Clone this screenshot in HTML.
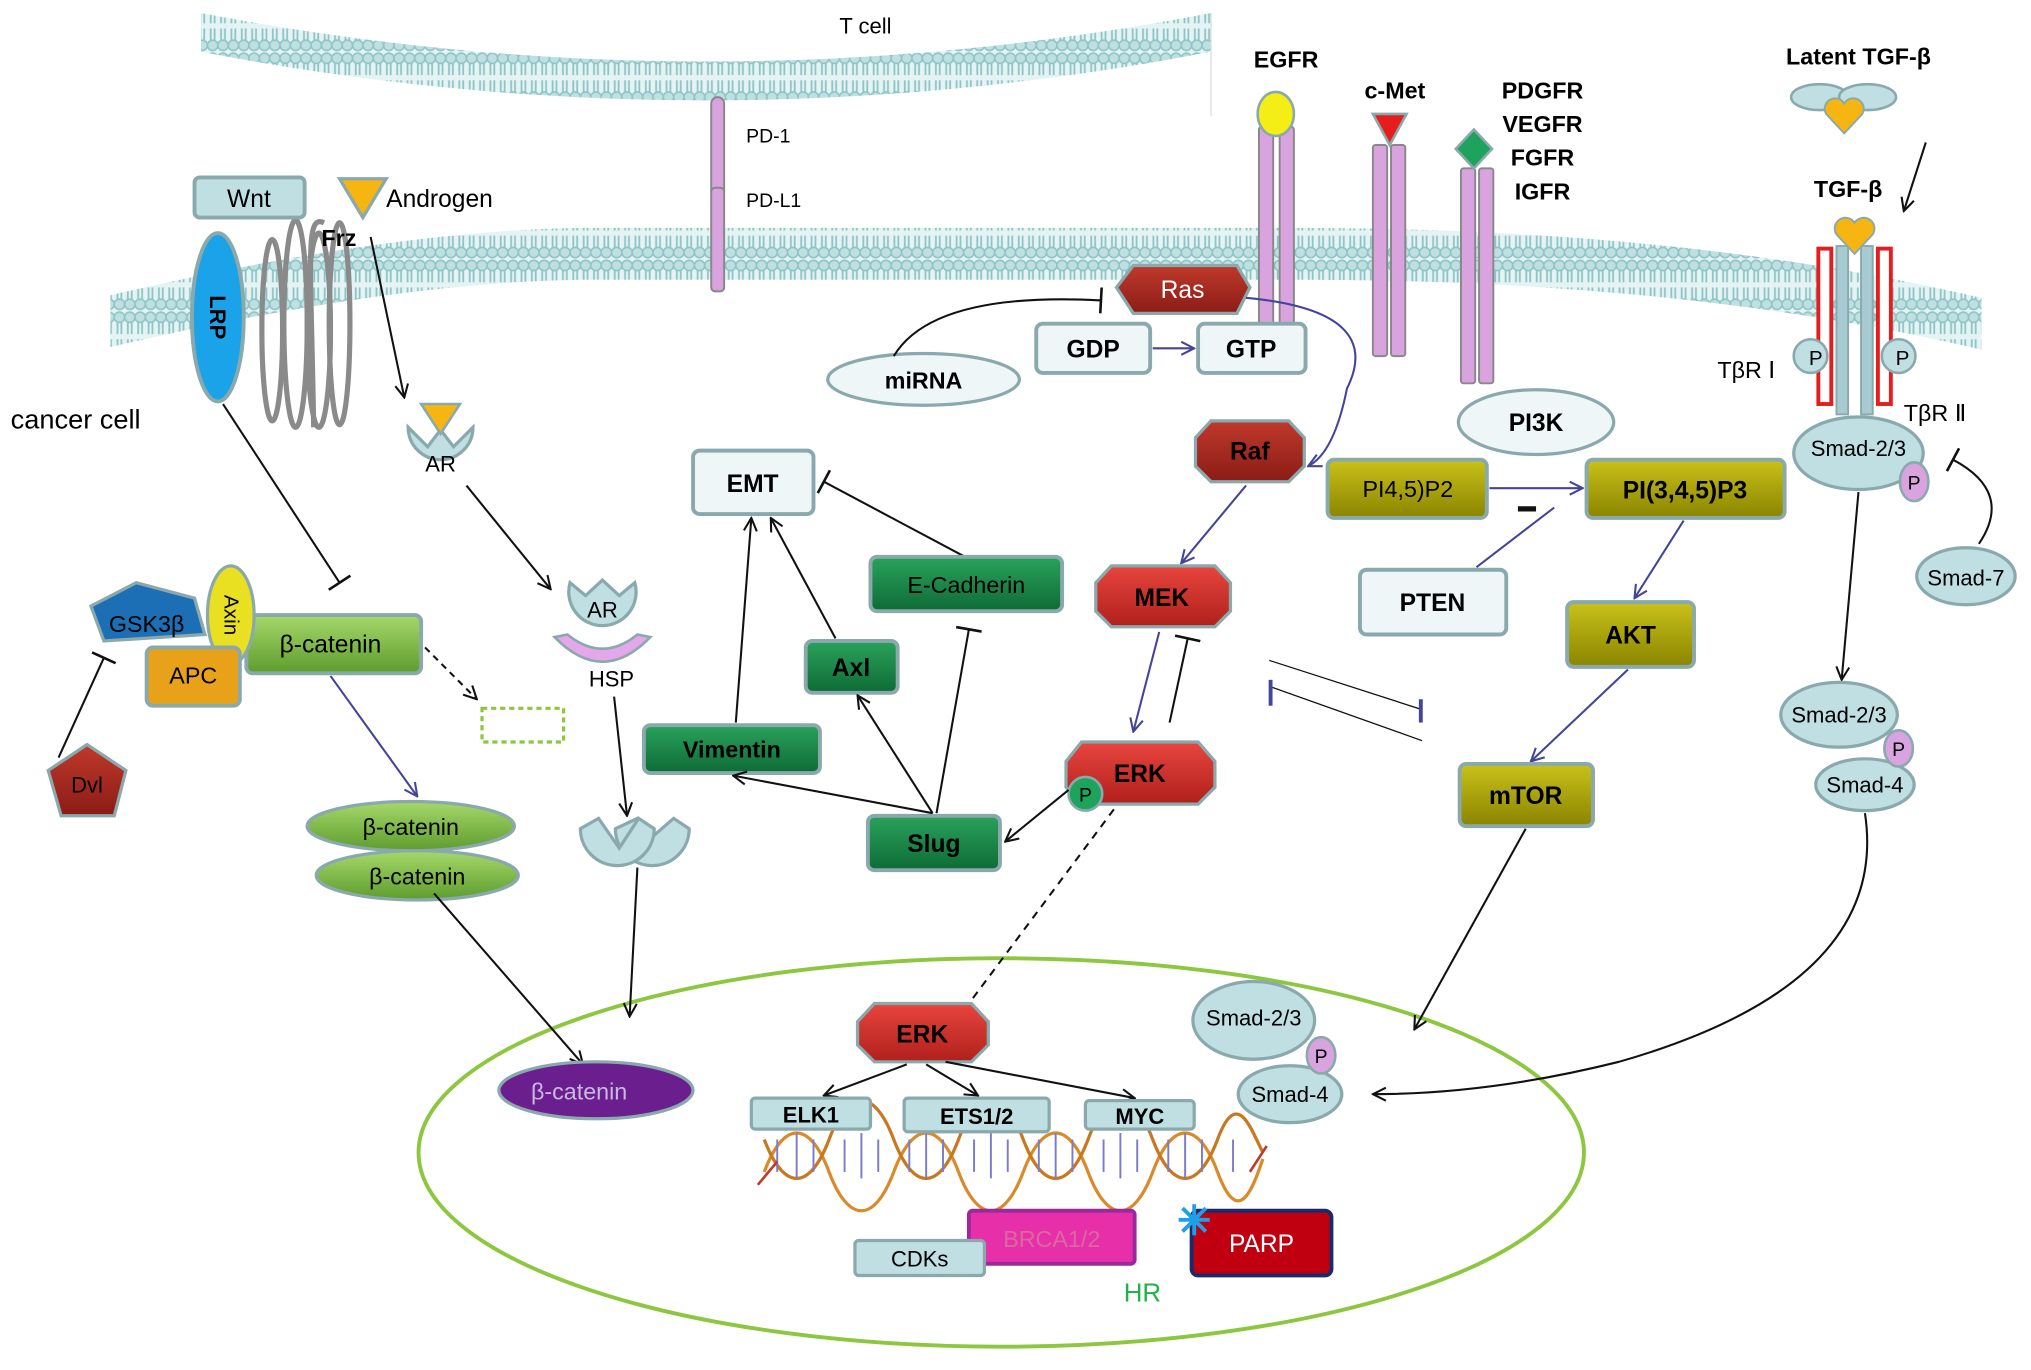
<!DOCTYPE html>
<html><head><meta charset="utf-8"><style>
html,body{margin:0;padding:0;background:#fff}
svg{display:block}
text{font-family:"Liberation Sans",sans-serif}
</style></head><body>
<svg width="2031" height="1370" viewBox="0 0 1568 1058" xmlns="http://www.w3.org/2000/svg">
<defs>
<marker id="a" viewBox="0 0 12 12" refX="11" refY="6" markerWidth="12" markerHeight="12" markerUnits="userSpaceOnUse" orient="auto"><path d="M1,1 L11,6 L1,11" fill="none" stroke="#111" stroke-width="1.6"/></marker>
<marker id="b" viewBox="0 0 12 12" refX="11" refY="6" markerWidth="12" markerHeight="12" markerUnits="userSpaceOnUse" orient="auto"><path d="M1,1 L11,6 L1,11" fill="none" stroke="#44449a" stroke-width="1.6"/></marker>
<marker id="t" viewBox="0 0 4 20" refX="2" refY="10" markerWidth="4" markerHeight="20" markerUnits="userSpaceOnUse" orient="auto"><line x1="2" y1="0" x2="2" y2="20" stroke="#111" stroke-width="2"/></marker>
<linearGradient id="red" x1="0" y1="0" x2="0" y2="1"><stop offset="0" stop-color="#e8453e"/><stop offset="1" stop-color="#b0201c"/></linearGradient>
<linearGradient id="dred" x1="0" y1="0" x2="0" y2="1"><stop offset="0" stop-color="#c0392b"/><stop offset="1" stop-color="#8a1c16"/></linearGradient>
<linearGradient id="grn" x1="0" y1="0" x2="0" y2="1"><stop offset="0" stop-color="#2aa25c"/><stop offset="1" stop-color="#0e6b36"/></linearGradient>
<linearGradient id="yel" x1="0" y1="0" x2="0" y2="1"><stop offset="0" stop-color="#c9c21a"/><stop offset="1" stop-color="#8a8400"/></linearGradient>
<linearGradient id="lg" x1="0" y1="0" x2="0" y2="1"><stop offset="0" stop-color="#a6d86a"/><stop offset="1" stop-color="#5e9c2e"/></linearGradient>
<pattern id="mem" width="8" height="40" patternUnits="userSpaceOnUse">
<rect width="8" height="40" fill="#e4f3f3"/>
<circle cx="4" cy="5" r="4" fill="#bfe0e1" stroke="#8fc4c6" stroke-width="1.2"/>
<line x1="2.5" y1="9" x2="2.5" y2="18" stroke="#8fc4c6" stroke-width="1.4"/><line x1="5.5" y1="9" x2="5.5" y2="18" stroke="#8fc4c6" stroke-width="1.4"/>
<line x1="2.5" y1="22" x2="2.5" y2="31" stroke="#8fc4c6" stroke-width="1.4"/><line x1="5.5" y1="22" x2="5.5" y2="31" stroke="#8fc4c6" stroke-width="1.4"/>
<circle cx="4" cy="35" r="4" fill="#bfe0e1" stroke="#8fc4c6" stroke-width="1.2"/>
</pattern>
</defs>

<!-- T cell membrane -->
<path d="M155,10 Q545,85 935,10 L935,40 Q545,115 155,40 Z" fill="url(#mem)"/>
<line x1="935" y1="10" x2="935" y2="90" stroke="#ddd" stroke-width="1"/>
<text x="648" y="26" font-size="17">T cell</text>

<!-- cancer cell membrane -->
<path d="M85,228 Q300,178 450,176 L1000,176 Q1300,176 1530,230 L1530,270 Q1300,216 1000,216 L450,216 Q300,218 85,268 Z" fill="url(#mem)"/>
<text x="8" y="331" font-size="21">cancer cell</text>

<!-- nucleus -->
<ellipse cx="773" cy="890" rx="450" ry="150" fill="none" stroke="#8dc63f" stroke-width="3"/>

<!-- PD-1 / PD-L1 -->
<rect x="549" y="75" width="10" height="78" rx="5" fill="#d9a3e0" stroke="#888" stroke-width="1.5"/>
<rect x="549" y="145" width="10" height="80" rx="3" fill="#d9a3e0" stroke="#888" stroke-width="1.5"/>
<text x="576" y="110" font-size="15">PD-1</text>
<text x="576" y="160" font-size="15">PD-L1</text>

<!-- Wnt / LRP / Frz -->
<g fill="none" stroke="#8a8a8a" stroke-width="4">
<ellipse cx="210" cy="255" rx="8" ry="70"/>
<ellipse cx="228" cy="250" rx="9" ry="80"/>
<ellipse cx="246" cy="255" rx="9" ry="75"/>
<ellipse cx="262" cy="250" rx="8" ry="78"/>
<path d="M250,172 C235,165 240,200 242,330"/>
</g>
<rect x="150" y="137" width="85" height="31" rx="4" fill="#bfdfe3" stroke="#8aa9ad" stroke-width="3"/>
<text x="192" y="160" font-size="19" text-anchor="middle">Wnt</text>
<ellipse cx="168" cy="245" rx="20" ry="65" fill="#1aa3e8" stroke="#8aa9ad" stroke-width="3"/>
<text x="168" y="245" font-size="17" font-weight="bold" text-anchor="middle" transform="rotate(90 168 245)" dy="6">LRP</text>
<polygon points="262,138 298,138 280,168" fill="#f7b512" stroke="#8aa9ad" stroke-width="2.5"/>
<text x="298" y="160" font-size="19">Androgen</text>
<text x="248" y="190" font-size="18" font-weight="bold">Frz</text>
<line x1="286" y1="183" x2="312" y2="307" stroke="#111" stroke-width="1.6" marker-end="url(#a)"/>

<!-- AR -->
<path d="M315,330 A25,25 0 1 0 365,330 L350,345 L340,332 L330,345 Z" fill="#bfdfe3" stroke="#8aa9ad" stroke-width="2.5"/>
<polygon points="325,312 355,312 340,335" fill="#f7b512" stroke="#8aa9ad" stroke-width="2"/>
<text x="340" y="364" font-size="17" text-anchor="middle">AR</text>
<line x1="360" y1="375" x2="425" y2="455" stroke="#111" stroke-width="1.6" marker-end="url(#a)"/>
<path d="M440,450 A26,26 0 1 0 490,450 L478,460 L465,448 L452,460 Z" fill="#bfdfe3" stroke="#8aa9ad" stroke-width="2.5"/>
<text x="465" y="477" font-size="17" text-anchor="middle">AR</text>
<path d="M428,492 Q465,530 502,492 L492,490 Q465,512 438,490 Z" fill="#e3a7ea" stroke="#8aa9ad" stroke-width="2"/>
<text x="472" y="530" font-size="17" text-anchor="middle">HSP</text>
<line x1="474" y1="538" x2="484" y2="630" stroke="#111" stroke-width="1.6" marker-end="url(#a)"/>
<path d="M475,640 A28,28 0 1 0 532,640 L520,632 L505,645 L492,632 Z" fill="#bfdfe3" stroke="#8aa9ad" stroke-width="2.5"/>
<path d="M448,640 A28,28 0 1 0 505,640 L493,632 L478,655 L462,632 Z" fill="#bfdfe3" stroke="#8aa9ad" stroke-width="2.5"/>
<line x1="492" y1="670" x2="486" y2="785" stroke="#111" stroke-width="1.6" marker-end="url(#a)"/>

<!-- beta-catenin complex -->
<line x1="172" y1="312" x2="262" y2="450" stroke="#111" stroke-width="1.6" marker-end="url(#t)"/>
<rect x="190" y="475" width="135" height="45" rx="5" fill="url(#lg)" stroke="#8aa9ad" stroke-width="3"/>
<text x="255" y="504" font-size="19" text-anchor="middle">β-catenin</text>
<ellipse cx="178" cy="475" rx="18" ry="38" fill="#e8e020" stroke="#8aa9ad" stroke-width="2.5"/>
<text x="178" y="475" font-size="16" text-anchor="middle" transform="rotate(90 178 475)" dy="5">Axin</text>
<rect x="113" y="500" width="72" height="45" rx="5" fill="#e8a21a" stroke="#8aa9ad" stroke-width="3"/>
<text x="149" y="528" font-size="18" text-anchor="middle">APC</text>
<polygon points="70,468 105,450 150,462 158,490 80,495" fill="#1c6fb5" stroke="#8aa9ad" stroke-width="2.5"/>
<text x="113" y="488" font-size="18" text-anchor="middle">GSK3β</text>
<line x1="45" y1="585" x2="80" y2="508" stroke="#111" stroke-width="1.6" marker-end="url(#t)"/>
<polygon points="67,575 97,595 88,630 47,630 37,595" fill="url(#dred)" stroke="#8aa9ad" stroke-width="2.5"/>
<text x="67" y="612" font-size="17" text-anchor="middle">Dvl</text>
<line x1="328" y1="500" x2="368" y2="540" stroke="#111" stroke-width="1.6" stroke-dasharray="5,4" marker-end="url(#a)"/>
<rect x="372" y="547" width="63" height="26" fill="none" stroke="#8dc63f" stroke-width="2.5" stroke-dasharray="4,3"/>
<line x1="255" y1="522" x2="322" y2="615" stroke="#44449a" stroke-width="1.6" marker-end="url(#b)"/>
<ellipse cx="322" cy="676" rx="78" ry="19" fill="url(#lg)" stroke="#8aa9ad" stroke-width="2.5"/>
<text x="322" y="683" font-size="18" text-anchor="middle">β-catenin</text>
<ellipse cx="317" cy="638" rx="80" ry="19" fill="url(#lg)" stroke="#8aa9ad" stroke-width="2.5"/>
<text x="317" y="645" font-size="18" text-anchor="middle">β-catenin</text>
<line x1="335" y1="690" x2="450" y2="822" stroke="#111" stroke-width="1.6" marker-end="url(#a)"/>
<ellipse cx="460" cy="842" rx="75" ry="22" fill="#6b1f8f" stroke="#8aa9ad" stroke-width="2.5"/>
<text x="447" y="849" font-size="18" text-anchor="middle" fill="#c9b8e0">β-catenin</text>

<!-- EMT section -->
<rect x="535" y="348" width="93" height="49" rx="5" fill="#eef6f8" stroke="#8aa9ad" stroke-width="3"/>
<text x="581" y="380" font-size="19" font-weight="bold" text-anchor="middle">EMT</text>
<line x1="745" y1="430" x2="636" y2="372" stroke="#111" stroke-width="1.6" marker-end="url(#t)"/>
<rect x="672" y="430" width="148" height="42" rx="5" fill="url(#grn)" stroke="#8aa9ad" stroke-width="3"/>
<text x="746" y="458" font-size="18" text-anchor="middle">E-Cadherin</text>
<rect x="622" y="495" width="71" height="40" rx="5" fill="url(#grn)" stroke="#8aa9ad" stroke-width="3"/>
<text x="657" y="522" font-size="19" font-weight="bold" text-anchor="middle">Axl</text>
<rect x="497" y="560" width="136" height="37" rx="5" fill="url(#grn)" stroke="#8aa9ad" stroke-width="3"/>
<text x="565" y="585" font-size="18" font-weight="bold" text-anchor="middle">Vimentin</text>
<rect x="670" y="630" width="102" height="42" rx="5" fill="url(#grn)" stroke="#8aa9ad" stroke-width="3"/>
<text x="721" y="658" font-size="19" font-weight="bold" text-anchor="middle">Slug</text>
<line x1="568" y1="558" x2="580" y2="400" stroke="#111" stroke-width="1.6" marker-end="url(#a)"/>
<line x1="645" y1="493" x2="595" y2="400" stroke="#111" stroke-width="1.6" marker-end="url(#a)"/>
<line x1="720" y1="628" x2="566" y2="599" stroke="#111" stroke-width="1.6" marker-end="url(#a)"/>
<line x1="720" y1="628" x2="662" y2="537" stroke="#111" stroke-width="1.6" marker-end="url(#a)"/>
<line x1="723" y1="628" x2="748" y2="486" stroke="#111" stroke-width="1.6" marker-end="url(#t)"/>

<!-- receptors -->
<g stroke="#888" stroke-width="1.5" fill="#d9a3e0">
<rect x="972" y="98" width="11" height="172" rx="2"/><rect x="988" y="98" width="11" height="172" rx="2"/>
<rect x="1060" y="112" width="11" height="163" rx="2"/><rect x="1074" y="112" width="11" height="163" rx="2"/>
<rect x="1128" y="130" width="11" height="166" rx="2"/><rect x="1142" y="130" width="11" height="166" rx="2"/>
</g>
<ellipse cx="985" cy="88" rx="14" ry="17" fill="#f5ee14" stroke="#8aa9ad" stroke-width="2"/>
<polygon points="1060,88 1086,88 1073,112" fill="#e51d1d" stroke="#8aa9ad" stroke-width="2"/>
<polygon points="1138,100 1152,115 1138,130 1124,115" fill="#1da35c" stroke="#8aa9ad" stroke-width="2"/>
<text x="993" y="52" font-size="18" font-weight="bold" text-anchor="middle">EGFR</text>
<text x="1077" y="76" font-size="18" font-weight="bold" text-anchor="middle">c-Met</text>
<g font-size="18" font-weight="bold" text-anchor="middle">
<text x="1191" y="76">PDGFR</text><text x="1191" y="102">VEGFR</text><text x="1191" y="128">FGFR</text><text x="1191" y="154">IGFR</text>
</g>

<!-- Ras / miRNA -->
<ellipse cx="713" cy="293" rx="74" ry="20" fill="#eef6f8" stroke="#8aa9ad" stroke-width="2.5"/>
<text x="713" y="300" font-size="18" font-weight="bold" text-anchor="middle">miRNA</text>
<path d="M690,275 Q720,225 850,232" fill="none" stroke="#111" stroke-width="1.6" marker-end="url(#t)"/>
<rect x="800" y="250" width="88" height="38" rx="5" fill="#eef6f8" stroke="#8aa9ad" stroke-width="3"/>
<text x="844" y="276" font-size="19" font-weight="bold" text-anchor="middle">GDP</text>
<rect x="925" y="250" width="83" height="38" rx="5" fill="#eef6f8" stroke="#8aa9ad" stroke-width="3"/>
<text x="966" y="276" font-size="19" font-weight="bold" text-anchor="middle">GTP</text>
<line x1="890" y1="269" x2="922" y2="269" stroke="#44449a" stroke-width="1.6" marker-end="url(#b)"/>

<polygon points="875,205 955,205 965,222 955,242 875,242 862,222" fill="url(#dred)" stroke="#8aa9ad" stroke-width="2.5"/>
<text x="913" y="230" font-size="19" text-anchor="middle" fill="#fff">Ras</text>
<path d="M962,230 Q1070,240 1040,300 Q1030,350 1010,360" fill="none" stroke="#44449a" stroke-width="1.6" marker-end="url(#b)"/>

<polygon points="935,325 995,325 1007,338 1007,360 995,372 935,372 923,360 923,338" fill="url(#dred)" stroke="#8aa9ad" stroke-width="2.5"/>
<text x="965" y="355" font-size="19" font-weight="bold" text-anchor="middle">Raf</text>
<line x1="962" y1="375" x2="912" y2="435" stroke="#44449a" stroke-width="1.6" marker-end="url(#b)"/>
<polygon points="858,437 938,437 950,450 950,472 938,484 858,484 846,472 846,450" fill="url(#red)" stroke="#8aa9ad" stroke-width="2.5"/>
<text x="897" y="468" font-size="19" font-weight="bold" text-anchor="middle">MEK</text>
<line x1="895" y1="488" x2="875" y2="565" stroke="#44449a" stroke-width="1.6" marker-end="url(#b)"/>
<line x1="903" y1="558" x2="917" y2="493" stroke="#111" stroke-width="1.6" marker-end="url(#t)"/>
<polygon points="835,573 925,573 938,588 938,608 925,621 835,621 823,608 823,588" fill="url(#red)" stroke="#8aa9ad" stroke-width="2.5"/>
<text x="880" y="604" font-size="19" font-weight="bold" text-anchor="middle">ERK</text>
<circle cx="838" cy="613" r="13" fill="#1da35c" stroke="#8aa9ad" stroke-width="2"/>
<text x="838" y="619" font-size="15" text-anchor="middle">P</text>
<line x1="825" y1="610" x2="776" y2="650" stroke="#111" stroke-width="1.6" marker-end="url(#a)"/>
<line x1="860" y1="625" x2="748" y2="775" stroke="#111" stroke-width="1.6" stroke-dasharray="6,5"/>
<line x1="980" y1="510" x2="1098" y2="548" stroke="#111" stroke-width="1"/>
<line x1="980" y1="530" x2="1098" y2="572" stroke="#111" stroke-width="1"/>
<line x1="981" y1="525" x2="981" y2="545" stroke="#44449a" stroke-width="3"/>
<line x1="1097" y1="540" x2="1097" y2="558" stroke="#44449a" stroke-width="3"/>

<!-- PI3K -->
<ellipse cx="1186" cy="326" rx="60" ry="25" fill="#eef6f8" stroke="#8aa9ad" stroke-width="2.5"/>
<text x="1186" y="333" font-size="19" font-weight="bold" text-anchor="middle">PI3K</text>
<rect x="1025" y="355" width="123" height="45" rx="5" fill="url(#yel)" stroke="#8aa9ad" stroke-width="3"/>
<text x="1087" y="384" font-size="18" text-anchor="middle">PI4,5)P2</text>
<rect x="1225" y="355" width="153" height="45" rx="5" fill="url(#yel)" stroke="#8aa9ad" stroke-width="3"/>
<text x="1301" y="385" font-size="19" font-weight="bold" text-anchor="middle">PI(3,4,5)P3</text>
<line x1="1150" y1="377" x2="1222" y2="377" stroke="#44449a" stroke-width="1.6" marker-end="url(#b)"/>
<line x1="1172" y1="393" x2="1186" y2="393" stroke="#111" stroke-width="4"/>
<rect x="1050" y="440" width="113" height="50" rx="5" fill="#eef6f8" stroke="#8aa9ad" stroke-width="3"/>
<text x="1106" y="472" font-size="19" font-weight="bold" text-anchor="middle">PTEN</text>
<line x1="1140" y1="438" x2="1200" y2="392" stroke="#44449a" stroke-width="1.6"/>
<line x1="1300" y1="402" x2="1262" y2="462" stroke="#44449a" stroke-width="1.6" marker-end="url(#b)"/>
<rect x="1210" y="465" width="98" height="50" rx="5" fill="url(#yel)" stroke="#8aa9ad" stroke-width="3"/>
<text x="1259" y="497" font-size="19" font-weight="bold" text-anchor="middle">AKT</text>
<line x1="1257" y1="517" x2="1182" y2="588" stroke="#44449a" stroke-width="1.6" marker-end="url(#b)"/>
<rect x="1127" y="590" width="103" height="48" rx="5" fill="url(#yel)" stroke="#8aa9ad" stroke-width="3"/>
<text x="1178" y="621" font-size="19" font-weight="bold" text-anchor="middle">mTOR</text>
<line x1="1178" y1="640" x2="1092" y2="795" stroke="#111" stroke-width="1.6" marker-end="url(#a)"/>

<!-- TGF-beta -->
<text x="1435" y="50" font-size="18" font-weight="bold" text-anchor="middle">Latent TGF-β</text>
<ellipse cx="1405" cy="75" rx="22" ry="10" fill="#bfdfe3" stroke="#8aa9ad" stroke-width="2"/>
<ellipse cx="1442" cy="75" rx="22" ry="10" fill="#bfdfe3" stroke="#8aa9ad" stroke-width="2"/>
<path d="M1424,103 L1410,88 A8,8 0 0 1 1424,80 A8,8 0 0 1 1438,88 Z" fill="#f7b512" stroke="#8aa9ad" stroke-width="1.5"/>
<line x1="1487" y1="110" x2="1470" y2="163" stroke="#111" stroke-width="1.6" marker-end="url(#a)"/>
<text x="1427" y="152" font-size="18" font-weight="bold" text-anchor="middle">TGF-β</text>
<rect x="1404" y="192" width="10" height="120" fill="#fff" stroke="#e51d1d" stroke-width="3"/>
<rect x="1450" y="192" width="10" height="120" fill="#fff" stroke="#e51d1d" stroke-width="3"/>
<g fill="#a8cbd3" stroke="#8aa9ad" stroke-width="1.5">
<rect x="1418" y="190" width="9" height="130"/><rect x="1437" y="190" width="9" height="130"/>
</g>
<path d="M1432,196 L1418,181 A8,8 0 0 1 1432,172 A8,8 0 0 1 1446,181 Z" fill="#f7b512" stroke="#8aa9ad" stroke-width="1.5"/>
<circle cx="1398" cy="275" r="13" fill="#bfdfe3" stroke="#8aa9ad" stroke-width="2"/>
<text x="1402" y="282" font-size="16" text-anchor="middle">P</text>
<circle cx="1466" cy="275" r="13" fill="#bfdfe3" stroke="#8aa9ad" stroke-width="2"/>
<text x="1469" y="282" font-size="16" text-anchor="middle">P</text>
<text x="1326" y="292" font-size="18">TβR Ⅰ</text>
<text x="1470" y="325" font-size="18">TβR Ⅱ</text>
<ellipse cx="1435" cy="350" rx="50" ry="28" fill="#bfdfe3" stroke="#8aa9ad" stroke-width="2.5"/>
<text x="1435" y="352" font-size="17" text-anchor="middle">Smad-2/3</text>
<ellipse cx="1478" cy="372" rx="11" ry="15" fill="#d9a3e0" stroke="#8aa9ad" stroke-width="2"/>
<text x="1478" y="378" font-size="15" text-anchor="middle">P</text>
<path d="M1528,420 Q1555,380 1508,355" fill="none" stroke="#111" stroke-width="1.6" marker-end="url(#t)"/>
<ellipse cx="1518" cy="445" rx="38" ry="22" fill="#bfdfe3" stroke="#8aa9ad" stroke-width="2.5"/>
<text x="1518" y="452" font-size="17" text-anchor="middle">Smad-7</text>
<line x1="1435" y1="380" x2="1422" y2="525" stroke="#111" stroke-width="1.6" marker-end="url(#a)"/>
<ellipse cx="1420" cy="552" rx="45" ry="25" fill="#bfdfe3" stroke="#8aa9ad" stroke-width="2.5"/>
<text x="1420" y="558" font-size="17" text-anchor="middle">Smad-2/3</text>
<ellipse cx="1440" cy="606" rx="38" ry="20" fill="#bfdfe3" stroke="#8aa9ad" stroke-width="2.5"/>
<text x="1440" y="612" font-size="17" text-anchor="middle">Smad-4</text>
<ellipse cx="1466" cy="578" rx="11" ry="14" fill="#d9a3e0" stroke="#8aa9ad" stroke-width="2"/>
<text x="1466" y="584" font-size="15" text-anchor="middle">P</text>
<path d="M1440,628 Q1460,760 1250,820 Q1150,845 1060,845" fill="none" stroke="#111" stroke-width="1.6" marker-end="url(#a)"/>

<!-- nucleus Smads -->
<ellipse cx="968" cy="788" rx="47" ry="30" fill="#bfdfe3" stroke="#8aa9ad" stroke-width="2.5"/>
<text x="968" y="792" font-size="17" text-anchor="middle">Smad-2/3</text>
<ellipse cx="996" cy="845" rx="40" ry="22" fill="#bfdfe3" stroke="#8aa9ad" stroke-width="2.5"/>
<text x="996" y="851" font-size="17" text-anchor="middle">Smad-4</text>
<ellipse cx="1020" cy="815" rx="11" ry="14" fill="#d9a3e0" stroke="#8aa9ad" stroke-width="2"/>
<text x="1020" y="821" font-size="15" text-anchor="middle">P</text>

<!-- nucleus ERK -->
<polygon points="675,775 750,775 763,789 763,807 750,820 675,820 662,807 662,789" fill="url(#red)" stroke="#8aa9ad" stroke-width="2.5"/>
<text x="712" y="805" font-size="19" font-weight="bold" text-anchor="middle">ERK</text>
<line x1="700" y1="822" x2="636" y2="846" stroke="#111" stroke-width="1.6" marker-end="url(#a)"/>
<line x1="715" y1="822" x2="755" y2="846" stroke="#111" stroke-width="1.6" marker-end="url(#a)"/>
<line x1="730" y1="820" x2="876" y2="848" stroke="#111" stroke-width="1.6" marker-end="url(#a)"/>

<!-- DNA -->
<g fill="none" stroke-width="2.5">
<path d="M590,905 C605,865 625,865 640,905 S675,945 690,905 S725,865 740,905 S775,945 790,905 S825,865 840,905 S875,945 890,905 S925,865 940,905 S965,925 975,895" stroke="#d98a2b"/>
<path d="M590,880 C605,920 625,920 640,880 S675,840 690,880 S725,920 740,880 S775,840 790,880 S825,920 840,880 S875,840 890,880 S925,920 940,880 S965,870 975,890" stroke="#c87820"/>
</g>
<g stroke="#7b7bc8" stroke-width="1.5">
<line x1="600" y1="880" x2="600" y2="905"/><line x1="615" y1="875" x2="615" y2="910"/><line x1="628" y1="880" x2="628" y2="905"/>
<line x1="652" y1="880" x2="652" y2="905"/><line x1="665" y1="875" x2="665" y2="910"/><line x1="678" y1="880" x2="678" y2="905"/>
<line x1="702" y1="880" x2="702" y2="905"/><line x1="715" y1="875" x2="715" y2="910"/><line x1="728" y1="880" x2="728" y2="905"/>
<line x1="752" y1="880" x2="752" y2="905"/><line x1="765" y1="875" x2="765" y2="910"/><line x1="778" y1="880" x2="778" y2="905"/>
<line x1="802" y1="880" x2="802" y2="905"/><line x1="815" y1="875" x2="815" y2="910"/><line x1="828" y1="880" x2="828" y2="905"/>
<line x1="852" y1="880" x2="852" y2="905"/><line x1="865" y1="875" x2="865" y2="910"/><line x1="878" y1="880" x2="878" y2="905"/>
<line x1="902" y1="880" x2="902" y2="905"/><line x1="915" y1="875" x2="915" y2="910"/><line x1="928" y1="880" x2="928" y2="905"/>
<line x1="952" y1="880" x2="952" y2="905"/>
</g>
<line x1="585" y1="915" x2="600" y2="897" stroke="#c0392b" stroke-width="2"/>
<line x1="965" y1="905" x2="978" y2="885" stroke="#c0392b" stroke-width="2"/>
<rect x="580" y="848" width="92" height="24" rx="3" fill="#bfdfe3" stroke="#8aa9ad" stroke-width="2.5"/>
<text x="626" y="867" font-size="17" font-weight="bold" text-anchor="middle">ELK1</text>
<rect x="698" y="848" width="112" height="26" rx="3" fill="#bfdfe3" stroke="#8aa9ad" stroke-width="2.5"/>
<text x="754" y="868" font-size="17" font-weight="bold" text-anchor="middle">ETS1/2</text>
<rect x="838" y="850" width="84" height="22" rx="3" fill="#bfdfe3" stroke="#8aa9ad" stroke-width="2.5"/>
<text x="880" y="868" font-size="17" font-weight="bold" text-anchor="middle">MYC</text>
<rect x="748" y="935" width="128" height="41" rx="3" fill="#e62fa8" stroke="#9a2a9a" stroke-width="3"/>
<text x="812" y="963" font-size="18" text-anchor="middle" fill="#d86aa0">BRCA1/2</text>
<rect x="660" y="958" width="100" height="27" rx="3" fill="#bfdfe3" stroke="#8aa9ad" stroke-width="2.5"/>
<text x="710" y="978" font-size="17" text-anchor="middle">CDKs</text>
<rect x="920" y="935" width="108" height="50" rx="5" fill="#c00010" stroke="#1a2a6a" stroke-width="3"/>
<text x="974" y="967" font-size="19" text-anchor="middle" fill="#fff">PARP</text>
<g stroke="#1ea0e8" stroke-width="3">
<line x1="910" y1="942" x2="934" y2="942"/><line x1="922" y1="930" x2="922" y2="954"/>
<line x1="913" y1="933" x2="931" y2="951"/><line x1="931" y1="933" x2="913" y2="951"/>
</g>
<text x="882" y="1005" font-size="20" fill="#22b24c" text-anchor="middle">HR</text>
</svg>
</body></html>
